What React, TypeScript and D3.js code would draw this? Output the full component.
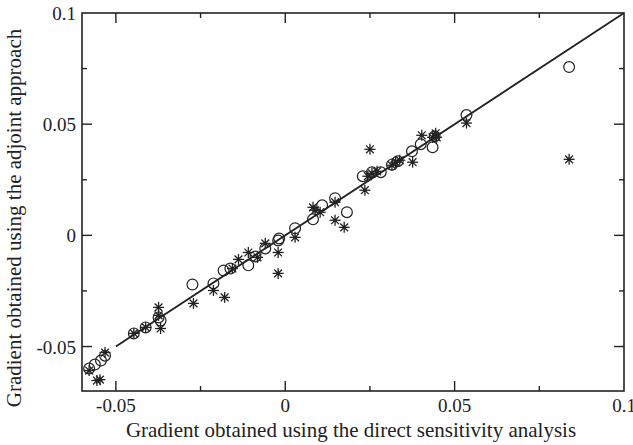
import React from "react";
import * as d3 from "d3";

const majorTicks = [-0.05, 0, 0.05, 0.1];
const minorTicks = [-0.025, 0.025, 0.075];
const tickLabels = ["-0.05", "0", "0.05", "0.1"];

const circleX = [-0.0579, -0.0562, -0.0544, -0.0532, -0.0447, -0.0412, -0.0374, -0.0368, -0.0274, -0.0212, -0.0182, -0.0162, -0.0109, -0.0088, -0.0059, -0.0021, -0.0018, 0.0029, 0.0082, 0.0109, 0.0147, 0.0182, 0.0229, 0.0256, 0.0282, 0.0315, 0.0332, 0.0374, 0.04, 0.0435, 0.0441, 0.0535, 0.0838];
const circleY = [-0.0599, -0.0581, -0.0563, -0.0541, -0.0441, -0.0414, -0.0369, -0.0383, -0.0221, -0.0216, -0.0158, -0.0149, -0.0135, -0.0095, -0.0059, -0.0023, -0.0014, 0.0032, 0.0072, 0.0135, 0.0167, 0.0104, 0.0266, 0.0284, 0.0284, 0.0318, 0.0333, 0.0378, 0.041, 0.0396, 0.0446, 0.0541, 0.0757];

const starX = [-0.0579, -0.0556, -0.0547, -0.0532, -0.0447, -0.0412, -0.0374, -0.0374, -0.0368, -0.0271, -0.0212, -0.0179, -0.0156, -0.0138, -0.0109, -0.0082, -0.0059, -0.0021, -0.0021, 0.0029, 0.0082, 0.0103, 0.0088, 0.0147, 0.0147, 0.0174, 0.0235, 0.025, 0.0244, 0.0256, 0.0271, 0.0315, 0.0326, 0.0338, 0.0376, 0.0403, 0.0435, 0.0444, 0.0447, 0.0535, 0.0838];
const starY = [-0.0608, -0.0653, -0.0649, -0.0527, -0.0441, -0.0414, -0.0324, -0.036, -0.0419, -0.0306, -0.0248, -0.0279, -0.0149, -0.0108, -0.0077, -0.0099, -0.0036, -0.0077, -0.0171, -0.0009, 0.0126, 0.0104, 0.0113, 0.0149, 0.0068, 0.0036, 0.0203, 0.0387, 0.0266, 0.0279, 0.0288, 0.0315, 0.0329, 0.0338, 0.0329, 0.045, 0.0441, 0.0459, 0.0441, 0.0505, 0.0342];

const lineStart = -0.05;
const lineEnd = 0.1;

const W = 633;
const H = 445;
const ink = "#222";
const font = "'Liberation Serif', 'Times New Roman', serif";

export default function App() {
  const x = d3.scaleLinear().domain([-0.06, 0.1]).range([82, 624]);
  const y = d3.scaleLinear().domain([-0.07, 0.1]).range([391, 13]);
  const [x0, x1] = x.range();
  const [yb, yt] = y.range();
  const major = 10;
  const minor = 5;

  const starArm = 5.5;
  const starAngles = [0, 45, 90, 135].map((a) => (a * Math.PI) / 180);

  return (
    <svg width={W} height={H} style={{ position: "absolute", left: 0, top: 0, background: "#fff" }}>
      <rect x={0} y={0} width={W} height={H} fill="#fff" />
      <rect x={x0} y={yt} width={x1 - x0} height={yb - yt} fill="none" stroke={ink} strokeWidth={1.6} />
      {majorTicks.filter((t) => t < 0.1).map((t, i) => (
        <g key={"xm" + i}>
          <line x1={x(t)} x2={x(t)} y1={yb} y2={yb - major} stroke={ink} strokeWidth={1.4} />
          <line x1={x(t)} x2={x(t)} y1={yt} y2={yt + major} stroke={ink} strokeWidth={1.4} />
        </g>
      ))}
      {minorTicks.map((t, i) => (
        <g key={"xn" + i}>
          <line x1={x(t)} x2={x(t)} y1={yb} y2={yb - minor} stroke={ink} strokeWidth={1.4} />
          <line x1={x(t)} x2={x(t)} y1={yt} y2={yt + minor} stroke={ink} strokeWidth={1.4} />
        </g>
      ))}
      {majorTicks.filter((t) => t < 0.1).map((t, i) => (
        <g key={"ym" + i}>
          <line x1={x0} x2={x0 + major} y1={y(t)} y2={y(t)} stroke={ink} strokeWidth={1.4} />
          <line x1={x1} x2={x1 - major} y1={y(t)} y2={y(t)} stroke={ink} strokeWidth={1.4} />
        </g>
      ))}
      {minorTicks.map((t, i) => (
        <g key={"yn" + i}>
          <line x1={x0} x2={x0 + minor} y1={y(t)} y2={y(t)} stroke={ink} strokeWidth={1.4} />
          <line x1={x1} x2={x1 - minor} y1={y(t)} y2={y(t)} stroke={ink} strokeWidth={1.4} />
        </g>
      ))}
      {majorTicks.map((t, i) => (
        <text key={"xl" + i} x={x(t)} y={yb + 21} textAnchor="middle" fontFamily={font} fontSize={19} fill={ink}>
          {tickLabels[i]}
        </text>
      ))}
      {majorTicks.map((t, i) => (
        <text key={"yl" + i} x={x0 - 6} y={y(t) + 7} textAnchor="end" fontFamily={font} fontSize={19} fill={ink}>
          {tickLabels[i]}
        </text>
      ))}
      <text x={351} y={437} textAnchor="middle" fontFamily={font} fontSize={21} fill={ink}>
        Gradient obtained using the direct sensitivity analysis
      </text>
      <text transform={`translate(21, ${218}) rotate(-90)`} textAnchor="middle" fontFamily={font} fontSize={21} fill={ink}>
        Gradient obtained using the adjoint approach
      </text>
      <line x1={x(lineStart)} y1={y(lineStart)} x2={x(lineEnd)} y2={y(lineEnd)} stroke={ink} strokeWidth={1.8} />
      {circleX.map((v, i) => (
        <circle key={"c" + i} cx={x(v)} cy={y(circleY[i])} r={5.4} fill="none" stroke={ink} strokeWidth={1.2} />
      ))}
      {starX.map((v, i) => {
        const cx = x(v);
        const cy = y(starY[i]);
        return (
          <g key={"s" + i}>
            {starAngles.map((a, j) => (
              <line
                key={j}
                x1={cx - starArm * Math.cos(a)}
                y1={cy - starArm * Math.sin(a)}
                x2={cx + starArm * Math.cos(a)}
                y2={cy + starArm * Math.sin(a)}
                stroke={ink}
                strokeWidth={1.3}
              />
            ))}
            <circle cx={cx} cy={cy} r={1.8} fill={ink} />
          </g>
        );
      })}
    </svg>
  );
}
